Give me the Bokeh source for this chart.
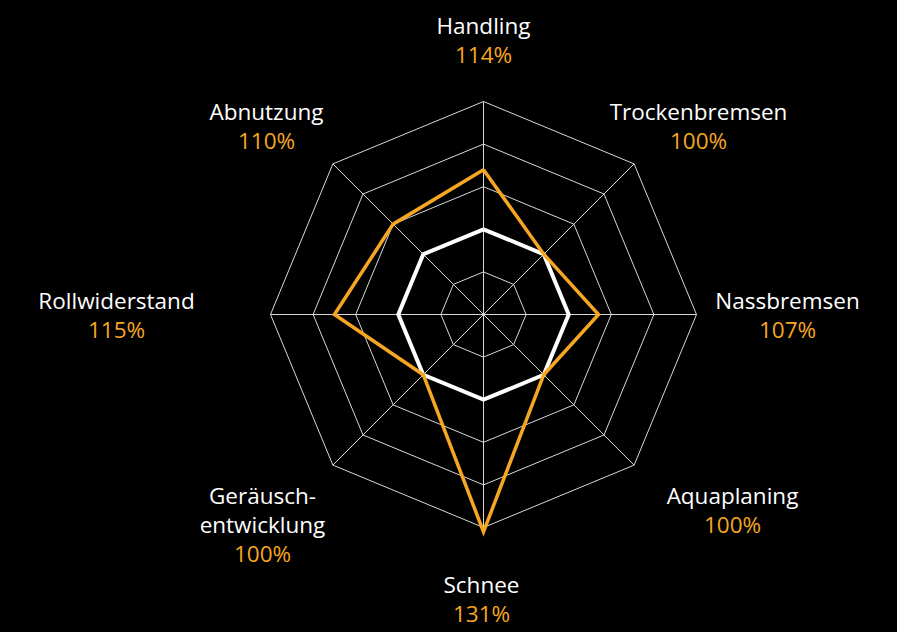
import numpy as np
from bokeh.plotting import figure
from bokeh.models import Range1d, ColumnDataSource
from bokeh.core.properties import value
from bokeh.embed import file_html
from bokeh.resources import INLINE

# ---- data ----
categories = ["Handling", "Trockenbremsen", "Nassbremsen", "Aquaplaning",
              "Schnee", "Geräusch-\nentwicklung", "Rollwiderstand", "Abnutzung"]
reference_values = [100, 100, 100, 100, 100, 100, 100, 100]
tyre_values = [114, 100, 107, 100, 131, 100, 115, 110]
ring_values = [90, 100, 110, 120, 130]
scale_min = 80
scale_max = 130

# ---- layout ----
W, H = 897, 632
CX, CY = 483, 314          # chart centre in figure pixels (from top-left)
R = 213                    # radius of outer ring (scale_max)
ORANGE = "#f6a623"
FONT = "Open Sans"
FS = "22.5px"
LINE_H = 29
# label block centres relative to chart centre (px, y down)
label_offsets = [(0, -275), (215, -189), (304, 0), (249, 195),
                 (-2, 284), (-221, 210), (-367, 0), (-217, -189)]

p = figure(width=W, height=H, output_backend="svg", toolbar_location=None,
           x_range=Range1d(-CX, W - CX), y_range=Range1d(-(H - CY), CY),
           background_fill_color="black", border_fill_color="black",
           min_border=0, outline_line_color=None)
p.axis.visible = False
p.grid.visible = False

n = len(categories)
ang = np.arange(n) * 2 * np.pi / n


def rad(v):
    return (np.asarray(v, dtype=float) - scale_min) / (scale_max - scale_min) * R


def polar(vals):
    r = rad(vals)
    xs = list(r * np.sin(ang)) + [r[0] * np.sin(ang[0])]
    ys = list(r * np.cos(ang)) + [r[0] * np.cos(ang[0])]
    return xs, ys


# grid rings
ring_xs, ring_ys = [], []
for rv in ring_values:
    xs, ys = polar([rv] * n)
    ring_xs.append(xs)
    ring_ys.append(ys)
p.multi_line(ring_xs, ring_ys, line_color="#d8d8d8", line_width=1)

# spokes
rmax = rad(scale_max)
p.segment(x0=[0] * n, y0=[0] * n, x1=list(rmax * np.sin(ang)),
          y1=list(rmax * np.cos(ang)), line_color="#d8d8d8", line_width=1)

# series
xs, ys = polar(reference_values)
p.line(xs, ys, line_color="white", line_width=4, line_join="miter")
xs, ys = polar(tyre_values)
p.line(xs, ys, line_color=ORANGE, line_width=3.5, line_join="miter")

# labels
tx, ty, tt, tc = [], [], [], []
for cat, v, (dx, dy) in zip(categories, tyre_values, label_offsets):
    lines = cat.split("\n")
    cols = ["white"] * len(lines)
    lines.append(f"{v}%")
    cols.append(ORANGE)
    m = len(lines)
    for j, (t, c) in enumerate(zip(lines, cols)):
        yy = dy + (j - (m - 1) / 2) * LINE_H
        tx.append(dx)
        ty.append(-yy)
        tt.append(t)
        tc.append(c)

src = ColumnDataSource(dict(x=tx, y=ty, text=tt, color=tc))
p.text(x="x", y="y", text="text", text_color="color", source=src,
       text_align="center", text_baseline="middle",
       text_font=value(FONT), text_font_size=FS)

html = file_html(p, INLINE)
html = html.replace("<head>", "<head><style>html,body{background:#000;margin:0;}</style>", 1)
open("out.html", "w").write(html)
